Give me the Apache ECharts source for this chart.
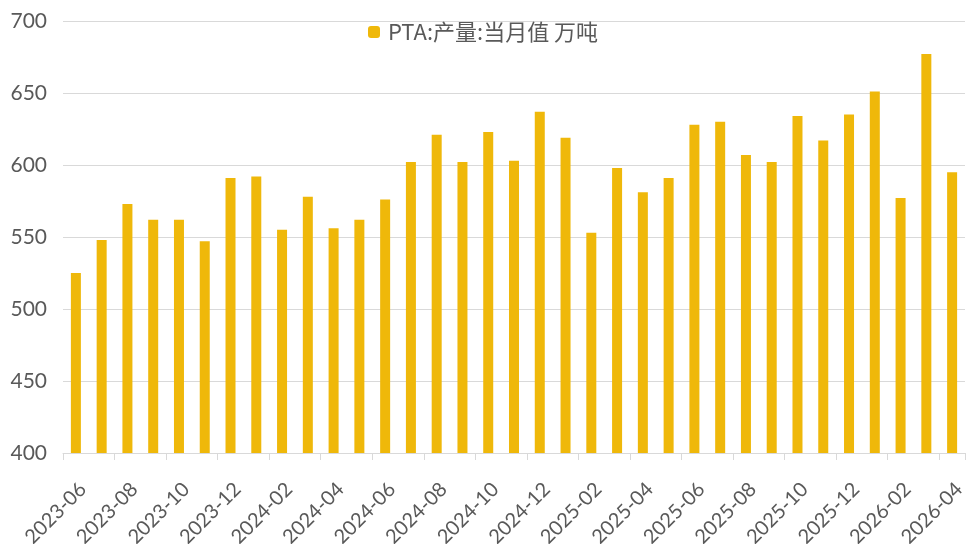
<!DOCTYPE html>
<html>
<head>
<meta charset="utf-8">
<script src="https://cdn.jsdelivr.net/npm/echarts@6/dist/echarts.min.js"></script>
<style>
  html, body { margin: 0; padding: 0; background: #fff; }
  #chart { width: 968px; height: 544px; }
</style>
</head>
<body>
<div id="chart"></div>
<script>
  // 月份
  var months = [
    '2023-06', '2023-07', '2023-08', '2023-09', '2023-10', '2023-11', '2023-12',
    '2024-01', '2024-02', '2024-03', '2024-04', '2024-05', '2024-06', '2024-07',
    '2024-08', '2024-09', '2024-10', '2024-11', '2024-12', '2025-01', '2025-02',
    '2025-03', '2025-04', '2025-05', '2025-06', '2025-07', '2025-08', '2025-09',
    '2025-10', '2025-11', '2025-12', '2026-01', '2026-02', '2026-03', '2026-04'
  ];
  // PTA 产量 当月值（万吨）
  var output = [
    525, 548, 573, 562, 562, 547, 591,
    592, 555, 578, 556, 562, 576, 602,
    621, 602, 623, 603, 637, 619, 553,
    598, 581, 591, 628, 630, 607, 602,
    634, 617, 635, 651, 577, 677, 595
  ];
  var seriesName = 'PTA:产量:当月值 万吨';

  var myChart = echarts.init(document.getElementById('chart'));
  var option = {
    animation: false,
    textStyle: { fontFamily: 'Lato, "Noto Sans CJK SC", sans-serif' },
    legend: {
      top: 16,
      left: 363,
      itemWidth: 12,
      itemHeight: 12,
      itemGap: 8,
      textStyle: { fontSize: 22, color: '#595959', fontFamily: '"Noto Sans CJK SC", sans-serif', padding: [0, 0, 0, 3] },
      data: [seriesName]
    },
    grid: { left: 63, right: 3, top: 21, bottom: 91, containLabel: false, outerBoundsMode: 'none' },
    xAxis: {
      type: 'category',
      data: months,
      boundaryGap: true,
      axisLine: { lineStyle: { color: '#D9D9D9' } },
      axisTick: { show: true, interval: 1, length: 7, lineStyle: { color: '#D9D9D9' } },
      axisLabel: {
        interval: 1,
        rotate: 45,
        fontSize: 20,
        color: '#595959',
        align: 'right',
        verticalAlign: 'top',
        margin: 26
      }
    },
    yAxis: {
      type: 'value',
      min: 400,
      max: 700,
      interval: 50,
      axisLine: { show: false },
      axisTick: { show: false },
      axisLabel: { fontSize: 21, color: '#595959', margin: 16 },
      splitLine: { lineStyle: { color: '#D9D9D9' } }
    },
    series: [
      {
        name: seriesName,
        type: 'bar',
        barWidth: 10,
        itemStyle: { color: '#EFB80A' },
        data: output
      }
    ]
  };
  myChart.setOption(option);
</script>
</body>
</html>
